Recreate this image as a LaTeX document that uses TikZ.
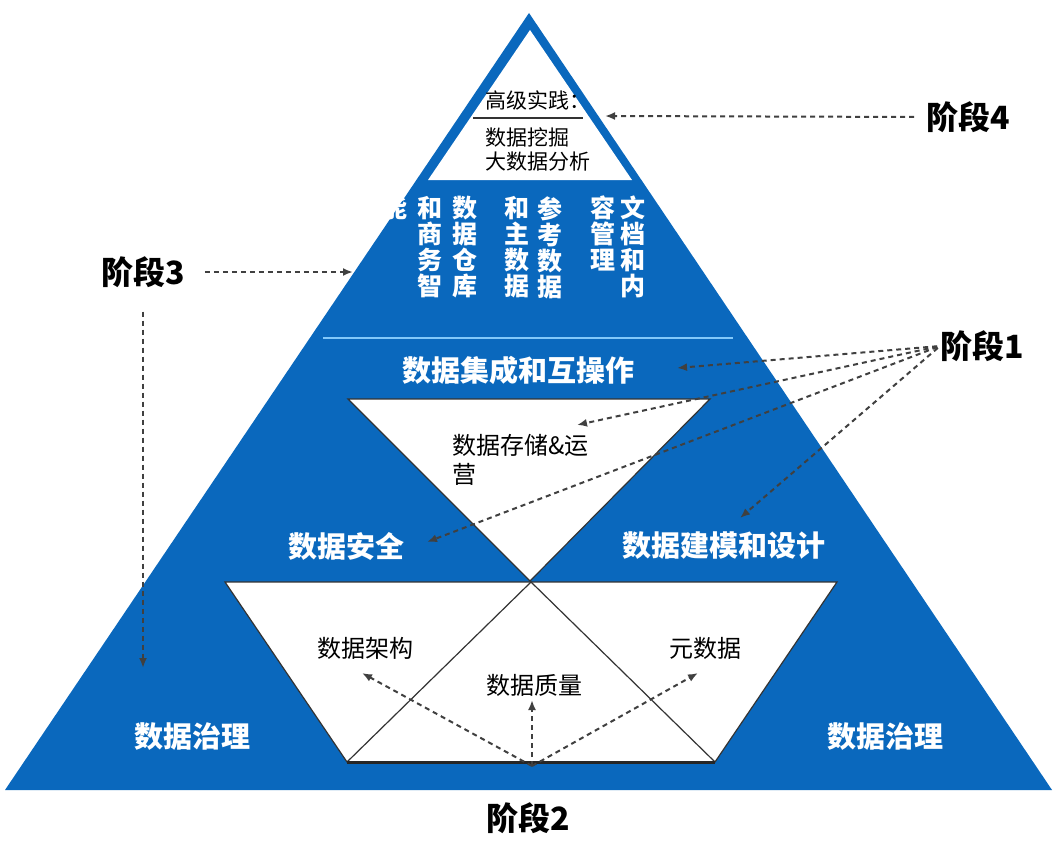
\documentclass[tikz,border=0pt]{standalone}
\usepackage{fontspec}
\newfontfamily\cjk{Noto Sans CJK SC}
\usetikzlibrary{arrows.meta}
\definecolor{pyrblue}{RGB}{10,104,189}
\definecolor{pyrline}{RGB}{130,200,250}

\begin{document}
\begin{tikzpicture}[x=1pt,y=-1pt,
    stage/.style={font=\cjk\bfseries\fontsize{32}{34}\selectfont,text=black,inner sep=0pt},
    band/.style={font=\cjk\bfseries\fontsize{29}{30}\selectfont,text=white,inner sep=0pt},
    column/.style={font=\cjk\bfseries\fontsize{25}{26}\selectfont,text=white,align=center,anchor=north,inner sep=0pt},
    apex/.style={font=\cjk\fontsize{21}{24}\selectfont,text=black,anchor=west,inner sep=0pt},
    inner/.style={font=\cjk\fontsize{24}{29}\selectfont,text=black,inner sep=0pt},
    outline/.style={fill=white,draw=black!80,line width=1.2pt},
    hint/.style={draw=black!75,line width=2pt,dash pattern=on 5pt off 4pt,-{Latex[length=10pt,width=8pt]}}]
      \useasboundingbox[fill=white] (0,0) rectangle (1056,840);

      % pyramid
      \fill[pyrblue] (529,13) -- (1052,790) -- (5,790) -- cycle;
      \fill[white] (530,30) -- (632,180) -- (428,180) -- cycle;
      \draw[pyrline,line width=2.5pt] (323,338) -- (733,338);
      \filldraw[outline] (348,399) -- (710,399) -- (530,581) -- cycle;
      \filldraw[outline] (225,582) -- (837,582) -- (715,762) -- (347,762) -- cycle;
      \draw[black!80,line width=1.2pt] (347,762) -- (531,582) -- (715,762);
      \draw[black!85,line width=3pt] (347,762) -- (715,762);

      % top
      \node[apex] (adv) at (485,100) {高级实践：};
      \draw[black!80,line width=1.2pt] (473,118) -- (583,118);
      \node[apex] (mining) at (485,137) {数据挖掘};
      \node[apex] (bigdata) at (485,162) {大数据分析};

      % vertical columns
      \foreach \x/\txt [count=\i] in {395/能,430/和\\商\\务\\智,465/数\\据\\仓\\库,517/和\\主\\数\\据,550/参\\考\\数\\据,603/容\\管\\理,633/文\\档\\和\\内} {
        \node[column] (col\i) at (\x,196) {\txt};
      }

      % layers
      \node[band] (integ) at (518,370) {数据集成和互操作};
      \node[inner,align=left,anchor=north west] (store) at (452,434) {数据存储\&运\\营};
      \node[band] (secur) at (346,546) {数据安全};
      \node[band] (model) at (724,546) {数据建模和设计};
      \node[inner] (arch) at (365,648) {数据架构};
      \node[inner] (quality) at (534,685) {数据质量};
      \node[inner] (meta) at (705,648) {元数据};
      \node[band] (govl) at (192,737) {数据治理};
      \node[band] (govr) at (885,737) {数据治理};

      % stages
      \node[stage] (s4) at (968,117) {阶段4};
      \node[stage] (s3) at (143,272) {阶段3};
      \node[stage] (s1) at (982,346) {阶段1};
      \node[stage] (s2) at (528,818) {阶段2};

      \coordinate (t4) at (605,116);
      \coordinate (t3) at (353,272);
      \coordinate (t3b) at (143,668);
      \coordinate (b2) at (532,766);

      \draw[hint,shorten <=12pt] (s4.west) -- (t4);
      \draw[hint,shorten <=20pt] (s3.east) -- (t3);
      \draw[hint,shorten <=24pt] (s3.south) -- (t3b);
      \foreach \x/\y [count=\i] in {677/368,577/425,427/542,740/518} {
        \coordinate (t1\i) at (\x,\y);
        \draw[hint,shorten <=3pt] (s1.west) -- (t1\i);
      }
      \foreach \x/\y [count=\i] in {362/673,532/700,698/673} {
        \coordinate (t2\i) at (\x,\y);
        \draw[hint] (b2) -- (t2\i);
      }
    \end{tikzpicture}
\end{document}
